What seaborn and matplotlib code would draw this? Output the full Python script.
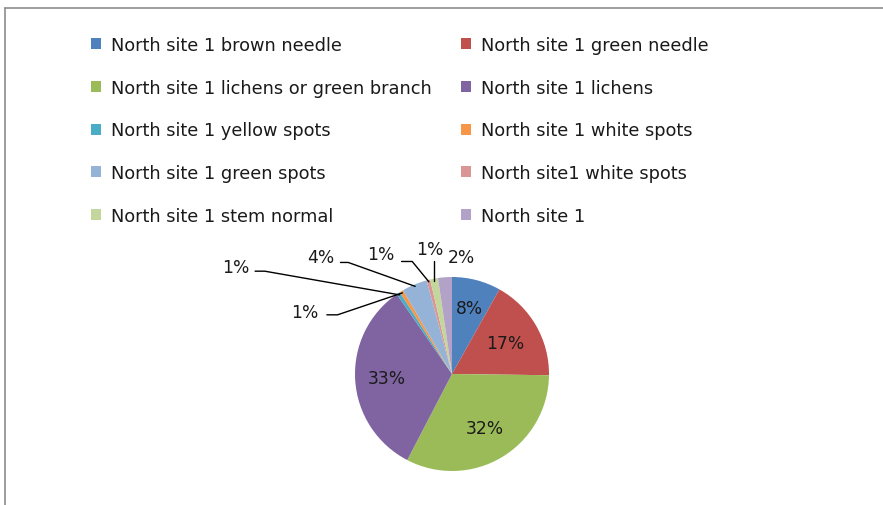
import numpy as np
import matplotlib
matplotlib.use("Agg")
import matplotlib.pyplot as plt
import seaborn as sns
from matplotlib.patches import Patch
from matplotlib.lines import Line2D

# ---- data ----
categories = [
    "North site 1 brown needle",
    "North site 1 green needle",
    "North site 1 lichens or green branch",
    "North site 1 lichens",
    "North site 1 yellow spots",
    "North site 1 white spots",
    "North site 1 green spots",
    "North site1 white spots",
    "North site 1 stem normal",
    "North site 1",
]
values = [8.1, 17.0, 32.3, 32.6, 0.6, 0.6, 4.2, 0.6, 1.3, 2.3]
colors_hex = ["#4F81BD", "#C0504D", "#9BBB59", "#8064A2", "#4BACC6",
              "#F79646", "#95B3D7", "#D99694", "#C3D69B", "#B3A2C7"]

# ---- style ----
sns.set_theme(style="white")
plt.rcParams["font.family"] = ["DejaVu Sans"]
TXT = "#1a1a1a"
FS = 12.3
LFS = 12.8
palette = sns.color_palette(colors_hex)

W, H = 883, 506
fig = plt.figure(figsize=(W / 100, H / 100), dpi=100)

# border (top + left visible)
fig.add_artist(Line2D([5 / W, 1.0], [1 - 9 / H, 1 - 9 / H], transform=fig.transFigure,
                      color="#8c8c8c", lw=1.2))
fig.add_artist(Line2D([5 / W, 5 / W], [0.0, 1 - 9 / H], transform=fig.transFigure,
                      color="#8c8c8c", lw=1.2))

# pie axes
cx, cy, r = 452, 375, 97
ax = fig.add_axes([(cx - r) / W, (H - cy - r) / H, 2 * r / W, 2 * r / H])

total = sum(values)
wedges, _ = ax.pie(values, colors=palette, startangle=90, counterclock=False,
                   radius=1.0, wedgeprops=dict(linewidth=0))
ax.set_aspect("auto")
ax.set_xlim(-1, 1)
ax.set_ylim(-1, 1)
ax.axis("off")

pcts = [round(v / total * 100) for v in values]

# label placement style (in radius units relative to pie centre)
inside = {0: 0.70, 1: 0.63, 2: 0.65, 3: 0.67}
outside = {
    4: dict(text=(-2.23, 1.10), elbow=[(-2.03, 1.06), (-1.93, 1.06)]),
    5: dict(text=(-1.52, 0.64), elbow=[(-1.29, 0.61), (-1.18, 0.61)]),
    6: dict(text=(-1.35, 1.21), elbow=[(-1.15, 1.15), (-1.07, 1.15)]),
    7: dict(text=(-0.73, 1.24), elbow=[(-0.52, 1.16), (-0.41, 1.16)]),
    8: dict(text=(-0.23, 1.29), elbow=[(-0.19, 1.17), (-0.19, 1.17)]),
    9: dict(text=(0.10, 1.21), elbow=None),
}

for i, w in enumerate(wedges):
    mid = np.deg2rad((w.theta1 + w.theta2) / 2)
    lab = f"{pcts[i]}%"
    if i in inside:
        d = inside[i]
        ax.text(d * np.cos(mid), d * np.sin(mid), lab, ha="center", va="center",
                fontsize=FS, color=TXT)
    else:
        o = outside[i]
        ax.text(o["text"][0], o["text"][1], lab, ha="center", va="center",
                fontsize=FS, color=TXT, clip_on=False)
        if o["elbow"] is not None:
            ex, ey = 0.98 * np.cos(mid), 0.98 * np.sin(mid)
            xs = [p[0] for p in o["elbow"]] + [ex if i != 8 else o["elbow"][0][0]]
            ys = [p[1] for p in o["elbow"]] + [ey]
            ax.plot(xs, ys, color="black", lw=1.0, clip_on=False)

# legend (row-major order like the reference)
order = list(range(0, len(categories), 2)) + list(range(1, len(categories), 2))
handles = [Patch(facecolor=palette[i], edgecolor="none") for i in order]
labels = [categories[i] for i in order]
leg = fig.legend(handles, labels, ncol=2, loc="upper left",
                 bbox_to_anchor=(75 / W, 1 - 21 / H), frameon=False,
                 fontsize=LFS, handlelength=0.56, handleheight=0.56,
                 handletextpad=0.56, labelspacing=1.39, columnspacing=1.65,
                 labelcolor=TXT)

fig.savefig("out.png", dpi=100)
